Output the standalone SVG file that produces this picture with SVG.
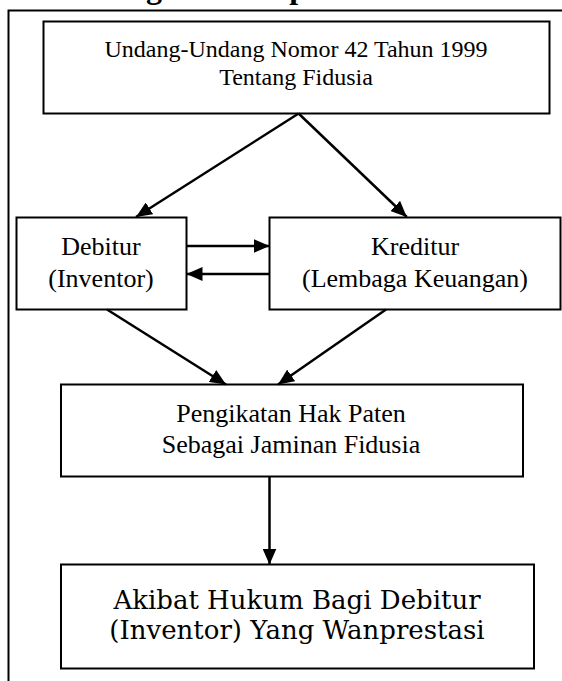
<svg xmlns="http://www.w3.org/2000/svg" width="562" height="681" viewBox="0 0 562 681">
<style>
.box{fill:#fff;stroke:#000;stroke-width:2}
.t{font-family:"Liberation Serif","Times New Roman",serif;font-size:26px;fill:#000;text-anchor:middle}
.t24{font-size:24px}
.tb{font-family:"DejaVu Serif",serif;font-size:26px;fill:#000;text-anchor:middle}
.c{stroke:#000;stroke-width:2.5;fill:none;marker-end:url(#ah)}
.frame{fill:none;stroke:#000;stroke-width:2}
</style>
<defs>
<marker id="ah" viewBox="0 0 16 14" refX="16" refY="7" markerWidth="16" markerHeight="14" markerUnits="userSpaceOnUse" orient="auto">
<path d="M0,0 L16,7 L0,14 z" fill="#000"/>
</marker>
</defs>
<rect width="562" height="681" fill="#fff"/>
<text x="59" y="-2.5" font-family="'Liberation Serif','Times New Roman',serif" font-size="32" font-weight="bold">Kerangka Konseptual</text>
<path class="frame" d="M8.5,700 V10.5 H575"/>
<g id="n-uu">
<rect class="box" x="43.5" y="21.5" width="506" height="92"/>
<text class="t t24" x="296" y="57">Undang-Undang Nomor 42 Tahun 1999</text>
<text class="t t24" x="296" y="85">Tentang Fidusia</text>
</g>
<g id="n-debitur">
<rect class="box" x="16.5" y="217.5" width="170" height="92"/>
<text class="t" x="101" y="255">Debitur</text>
<text class="t" x="101" y="287">(Inventor)</text>
</g>
<g id="n-kreditur">
<rect class="box" x="269.5" y="217.5" width="291" height="92"/>
<text class="t" x="415" y="255">Kreditur</text>
<text class="t" x="415" y="287">(Lembaga Keuangan)</text>
</g>
<g id="n-pengikatan">
<rect class="box" x="61" y="384.5" width="462" height="92"/>
<text class="t" x="291" y="422">Pengikatan Hak Paten</text>
<text class="t" x="291" y="453">Sebagai Jaminan Fidusia</text>
</g>
<g id="n-akibat">
<rect class="box" x="61" y="564.5" width="473" height="104"/>
<text class="tb" x="297" y="609">Akibat Hukum Bagi Debitur</text>
<text class="tb" x="297" y="639">(Inventor) Yang Wanprestasi</text>
</g>
<g id="connectors">
<line class="c" x1="298.6" y1="113.5" x2="136" y2="217"/>
<line class="c" x1="298.6" y1="113.5" x2="406.8" y2="217"/>
<line class="c" x1="186.5" y1="246" x2="269.5" y2="246"/>
<line class="c" x1="269.5" y1="274" x2="186.5" y2="274"/>
<line class="c" x1="107" y1="309.5" x2="226" y2="384.5"/>
<line class="c" x1="386" y1="309.5" x2="278" y2="384.5"/>
<line class="c" x1="269.5" y1="476.5" x2="269.5" y2="564.5"/>
</g>
</svg>
